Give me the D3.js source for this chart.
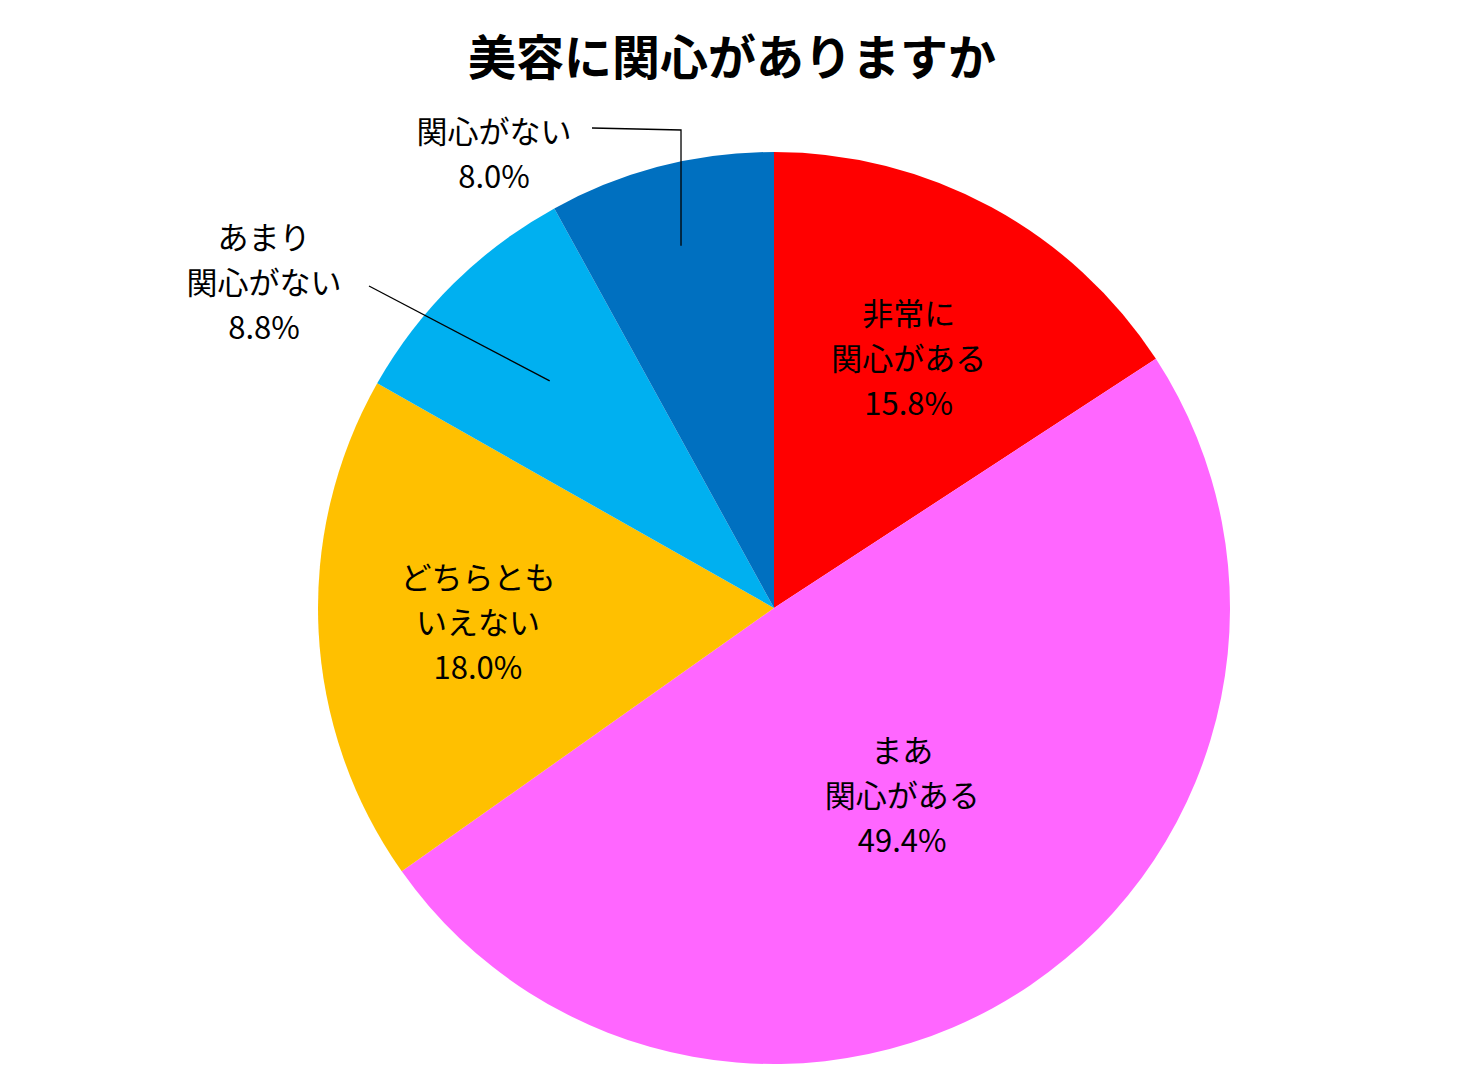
<!DOCTYPE html>
<html><head><meta charset="utf-8">
<script src="https://cdn.jsdelivr.net/npm/d3@7"></script>
<style>body{margin:0;background:#fff}</style></head>
<body><svg id="c" width="1464" height="1087"></svg>
<script>
const categories=["非常に\n関心がある","まあ\n関心がある","どちらとも\nいえない","あまり\n関心がない","関心がない"];
const values=[15.8,49.4,18.0,8.8,8.0];
const colors=["#FF0000","#FF66FF","#FFC000","#00B0F0","#0070C0"];
const title="美容に関心がありますか";

const svg=d3.select("#c");
const cx=774,cy=608,R=456;
const font="'Noto Sans CJK JP','Noto Sans',sans-serif";
svg.append("text").attr("x",732).attr("y",75).attr("text-anchor","middle")
 .attr("font-family",font).attr("font-weight","bold").attr("font-size",48).text(title);
const pie=d3.pie().sort(null).value(d=>d)(values);
const arc=d3.arc().innerRadius(0).outerRadius(R);
const g=svg.append("g").attr("transform",`translate(${cx},${cy})`);
g.selectAll("path").data(pie).join("path").attr("d",arc).attr("fill",(d,i)=>colors[i]);
function pt(a,r){return [r*Math.sin(a),-r*Math.cos(a)];}
const inner=[0.62,0.5,0.65];
const lineH=45;
pie.forEach((d,i)=>{
  const a=(d.startAngle+d.endAngle)/2;
  const lines=categories[i].split("\n").concat([values[i].toFixed(1)+"%"]);
  let p,lp=null;
  if(i<3){p=pt(a,R*inner[i]);}
  else if(i===3){const e=pt(a,R*0.7);p=[-510,-325];lp=[[e[0],e[1]],[-405,-322]];}
  else {const e=pt(a,R*0.82);p=[-280,-453];lp=[[e[0],e[1]],[e[0],-478],[-182,-480]];}
  if(lp) g.append("path").attr("d",d3.line()(lp)).attr("fill","none").attr("stroke","#000").attr("stroke-width",1.3);
  const t=g.append("text").attr("text-anchor","middle").attr("font-family",font).attr("font-size",31).attr("fill","#000");
  const n=lines.length, y0=p[1]-(n-1)*lineH/2;
  lines.forEach((s,k)=>t.append("tspan").attr("x",p[0]).attr("y",y0+k*lineH).attr("dy","0.35em").text(s));
});
</script></body></html>
